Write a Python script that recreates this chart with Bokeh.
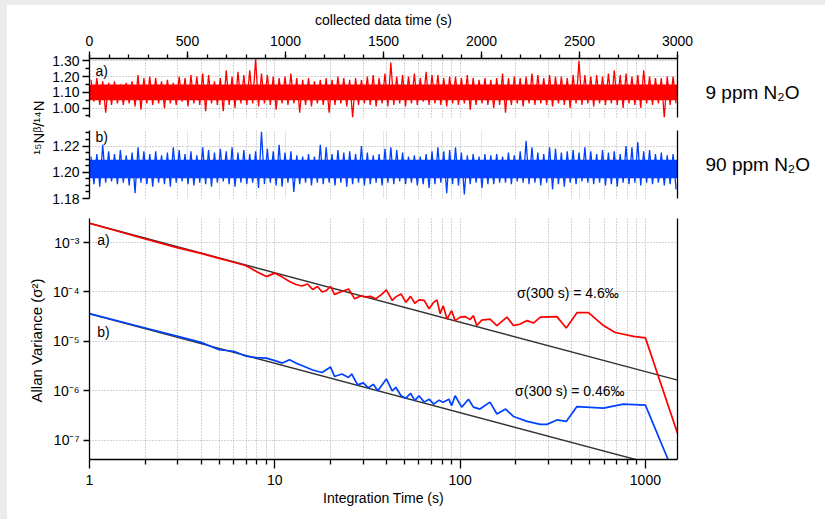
import math
from bokeh.plotting import figure
from bokeh.layouts import column, row
from bokeh.models import (Range1d, LinearAxis, LogAxis, FixedTicker, Grid, LogScale,
                          Label, Spacer, NumeralTickFormatter)
from bokeh.embed import file_html
from bokeh.resources import INLINE

FONT = "Liberation Sans"
RED = "#ff0000"
BLUE = "#0040ff"
FIT = "#333333"
GRID = "#a6a6a6"
FS = "14px"

# ---------------- data ----------------
# time series, read as per-bin (30 s) upper / lower envelope
bin_width_s = 30
bin_t = [15 + bin_width_s * i for i in range(100)]

red_hi = [1.18, 1.19, 1.17, 1.16, 1.17, 1.15, 1.16, 1.17, 1.21, 1.19,
          1.20, 1.19, 1.17, 1.18, 1.16, 1.20, 1.19, 1.21, 1.20, 1.22,
          1.21, 1.17, 1.19, 1.24, 1.20, 1.23, 1.21, 1.24, 1.31, 1.22,
          1.21, 1.20, 1.19, 1.20, 1.22, 1.19, 1.18, 1.19, 1.17, 1.18,
          1.19, 1.18, 1.20, 1.19, 1.18, 1.19, 1.18, 1.20, 1.21, 1.19,
          1.22, 1.29, 1.20, 1.21, 1.20, 1.22, 1.19, 1.23, 1.21, 1.21,
          1.19, 1.20, 1.20, 1.19, 1.21, 1.19, 1.18, 1.19, 1.18, 1.19,
          1.22, 1.19, 1.20, 1.19, 1.20, 1.22, 1.21, 1.19, 1.21, 1.20,
          1.20, 1.19, 1.21, 1.30, 1.21, 1.20, 1.21, 1.20, 1.22, 1.24,
          1.21, 1.22, 1.20, 1.21, 1.24, 1.20, 1.19, 1.19, 1.20, 1.20]
red_lo = [1.04, 1.02, 0.97, 1.02, 1.03, 1.02, 1.03, 1.01, 0.99, 1.03,
          1.02, 1.03, 1.00, 1.03, 1.02, 1.04, 1.01, 1.03, 1.02, 0.98,
          1.03, 1.02, 0.98, 1.02, 1.00, 1.03, 1.02, 1.03, 1.01, 1.03,
          1.02, 0.99, 1.03, 1.02, 1.03, 0.97, 1.02, 1.01, 1.03, 1.02,
          0.97, 1.02, 1.03, 1.01, 0.94, 1.02, 1.03, 1.02, 1.01, 1.03,
          1.01, 1.02, 1.03, 1.01, 1.03, 1.02, 1.04, 1.02, 1.03, 1.02,
          1.01, 1.03, 1.02, 1.03, 0.99, 1.02, 1.03, 1.02, 1.00, 1.02,
          0.97, 1.02, 1.03, 1.01, 1.03, 1.02, 1.03, 1.02, 1.01, 1.03,
          1.02, 1.00, 1.03, 1.02, 1.03, 1.01, 1.03, 1.02, 1.03, 1.02,
          1.00, 1.03, 1.02, 1.00, 1.03, 1.02, 1.03, 0.94, 1.02, 1.03]
red_core = [1.05, 1.15]

blue_hi = [1.212, 1.214, 1.221, 1.216, 1.214, 1.217, 1.213, 1.215, 1.219, 1.216,
           1.214, 1.216, 1.213, 1.215, 1.219, 1.217, 1.214, 1.216, 1.213, 1.219,
           1.217, 1.215, 1.218, 1.216, 1.219, 1.215, 1.217, 1.214, 1.216, 1.231,
           1.218, 1.216, 1.221, 1.215, 1.216, 1.213, 1.212, 1.214, 1.212, 1.221,
           1.219, 1.214, 1.217, 1.215, 1.216, 1.214, 1.220, 1.215, 1.213, 1.214,
           1.218, 1.219, 1.217, 1.215, 1.212, 1.213, 1.212, 1.214, 1.216, 1.219,
           1.216, 1.217, 1.219, 1.215, 1.213, 1.214, 1.212, 1.214, 1.213, 1.214,
           1.212, 1.215, 1.213, 1.216, 1.224, 1.219, 1.215, 1.214, 1.219, 1.218,
           1.215, 1.216, 1.217, 1.215, 1.219, 1.216, 1.214, 1.217, 1.215, 1.216,
           1.214, 1.220, 1.219, 1.223, 1.216, 1.217, 1.214, 1.215, 1.213, 1.214]
blue_lo = [1.191, 1.189, 1.192, 1.193, 1.191, 1.192, 1.190, 1.184, 1.192, 1.191,
           1.189, 1.192, 1.191, 1.189, 1.192, 1.193, 1.191, 1.190, 1.192, 1.191,
           1.189, 1.192, 1.193, 1.191, 1.189, 1.192, 1.191, 1.192, 1.188, 1.191,
           1.192, 1.190, 1.189, 1.192, 1.185, 1.191, 1.192, 1.190, 1.192, 1.191,
           1.192, 1.190, 1.192, 1.189, 1.191, 1.192, 1.190, 1.191, 1.192, 1.190,
           1.192, 1.191, 1.193, 1.191, 1.192, 1.190, 1.191, 1.188, 1.191, 1.192,
           1.184, 1.191, 1.190, 1.183, 1.191, 1.192, 1.188, 1.191, 1.191, 1.192,
           1.192, 1.191, 1.193, 1.192, 1.191, 1.192, 1.190, 1.192, 1.187, 1.191,
           1.189, 1.192, 1.191, 1.193, 1.192, 1.191, 1.192, 1.190, 1.191, 1.189,
           1.192, 1.191, 1.192, 1.190, 1.192, 1.191, 1.192, 1.190, 1.191, 1.187]
blue_core = [1.1955, 1.2095]

# Allan variance (log10 of sigma^2) vs integration time
red_tau = [1, 2, 3, 4, 5, 6, 7, 8, 9, 10, 11, 12, 13, 14, 15, 16, 17, 18, 19, 20,
           21, 23, 25, 27, 29, 31, 33, 35, 38, 40, 43, 45, 48, 51, 54, 57, 60, 64,
           68, 72, 75, 78, 81, 85, 90, 94, 100, 107, 113, 118, 123, 131, 145, 158,
           179, 194, 211, 230, 249, 271, 333, 374, 427, 493, 594, 687, 863, 1000, 1490]
red_log_avar = [-2.61, -2.93, -3.11, -3.22, -3.32, -3.40, -3.47, -3.59, -3.69, -3.62,
                -3.70, -3.79, -3.85, -3.88, -3.84, -3.95, -3.89, -4.00, -3.97, -3.89,
                -4.05, -3.99, -3.94, -4.14, -4.08, -4.10, -4.09, -4.14, -4.04, -3.96,
                -4.17, -4.10, -4.04, -4.21, -4.09, -4.23, -4.16, -4.17, -4.34, -4.21,
                -4.16, -4.44, -4.28, -4.55, -4.38, -4.58, -4.51, -4.50, -4.56, -4.48,
                -4.68, -4.57, -4.55, -4.68, -4.51, -4.68, -4.65, -4.58, -4.63, -4.51,
                -4.50, -4.73, -4.42, -4.42, -4.68, -4.82, -4.90, -4.93, -6.86]

blue_tau = [1, 2, 3, 4, 5, 6, 7, 8, 9, 10, 11, 12, 13, 14, 16, 18, 20, 21, 23, 25,
            26, 28, 30, 32, 34, 36, 40, 43, 45, 48, 51, 54, 57, 60, 64, 68, 72, 77,
            81, 87, 90, 94, 102, 111, 118, 128, 145, 158, 176, 194, 230, 271, 294,
            333, 374, 427, 594, 760, 1000, 1490]
blue_log_avar = [-4.44, -4.73, -4.90, -5.02, -5.17, -5.20, -5.30, -5.33, -5.34, -5.39,
                 -5.44, -5.37, -5.44, -5.49, -5.58, -5.63, -5.52, -5.71, -5.66, -5.73,
                 -5.66, -5.88, -5.84, -5.94, -5.87, -6.00, -5.76, -6.00, -5.93, -6.10,
                 -6.15, -6.05, -6.20, -6.10, -6.23, -6.17, -6.27, -6.19, -6.23, -6.17,
                 -6.30, -6.10, -6.33, -6.17, -6.33, -6.37, -6.23, -6.47, -6.37, -6.52,
                 -6.62, -6.68, -6.68, -6.59, -6.62, -6.32, -6.35, -6.27, -6.29, -7.85]

# white-noise reference lines (slope -1)
fit_tau = [1, 1490]
fit_a = [2.45e-3, 1.64e-6]
fit_b = [3.6e-5, 2.42e-8]

time_major = [0, 500, 1000, 1500, 2000, 2500, 3000]
time_minor = list(range(0, 3001, 100))
tau_major = [1, 10, 100, 1000]
tau_minor = [2, 3, 4, 5, 6, 7, 8, 9, 20, 30, 40, 50, 60, 70, 80, 90,
             200, 300, 400, 500, 600, 700, 800, 900]
avar_major = [1e-7, 1e-6, 1e-5, 1e-4, 1e-3]
avar_labels = ["10⁻⁷", "10⁻⁶", "10⁻⁵", "10⁻⁴", "10⁻³"]
ra_major = [1.00, 1.10, 1.20, 1.30]
ra_minor = [0.95, 1.05, 1.15, 1.25]
rb_major = [1.18, 1.20, 1.22]
rb_minor = [1.185, 1.19, 1.195, 1.205, 1.21, 1.215, 1.225, 1.23]

TAU_MAX = 1490


# ---------------- helpers ----------------
def style_axis(ax, major_out=7, minor_out=4):
    ax.axis_line_color = "black"
    ax.axis_line_width = 1.3
    ax.major_tick_line_color = "black"
    ax.major_tick_line_width = 1.3
    ax.minor_tick_line_color = "black"
    ax.minor_tick_line_width = 1.3
    ax.major_tick_in = 0
    ax.major_tick_out = major_out
    ax.minor_tick_in = 0
    ax.minor_tick_out = minor_out
    ax.major_label_text_font = FONT
    ax.major_label_text_font_size = FS
    ax.major_label_text_color = "black"
    ax.axis_label_text_font = FONT
    ax.axis_label_text_font_size = FS
    ax.axis_label_text_font_style = "normal"
    ax.axis_label_text_color = "black"


def frame_line(p, side, log=False):
    Ax = LogAxis if log else LinearAxis
    ax = Ax(ticker=FixedTicker(ticks=[]), axis_line_color="black", axis_line_width=1.3,
            major_tick_line_color=None, minor_tick_line_color=None,
            major_label_text_font_size="0px")
    p.add_layout(ax, side)


def tau_grid(p):
    g = Grid(dimension=0, ticker=FixedTicker(ticks=tau_minor + tau_major[1:]),
             x_range_name="tau", grid_line_color=GRID, grid_line_dash="1 2",
             grid_line_width=1)
    p.add_layout(g)


def zigzag(hi, lo):
    xs, ys = [], []
    for t, h, l in zip(bin_t, hi, lo):
        xs += [t - bin_width_s / 4, t + bin_width_s / 4]
        ys += [h, l]
    return xs, ys


def text_label(p, x, y, text, size=FS, align="left", angle=0.0):
    p.add_layout(Label(x=x, y=y, text=text, text_font=FONT, text_font_size=size,
                       text_color="black", text_baseline="middle", text_align=align,
                       angle=angle))


W = 650
BL, BR = 42, 20

# ---------------- panel a (red time series) ----------------
pa = figure(width=W, height=118, x_range=Range1d(0, 3000), y_range=Range1d(0.94, 1.315),
            x_axis_location="above", toolbar_location=None, output_backend="svg",
            min_border_left=BL, min_border_right=BR, min_border_top=53, min_border_bottom=6,
            extra_x_ranges={"tau": Range1d(1, TAU_MAX)}, extra_x_scales={"tau": LogScale()})
pa.outline_line_color = None
pa.xgrid.visible = False
pa.ygrid.grid_line_color = GRID
pa.ygrid.grid_line_dash = "1 2"
tau_grid(pa)
style_axis(pa.xaxis[0], 7, 4)
pa.xaxis[0].ticker = FixedTicker(ticks=time_major, minor_ticks=time_minor)
pa.xaxis[0].axis_label = "collected data time (s)"
pa.xaxis[0].axis_label_standoff = 5
pa.xaxis[0].major_label_standoff = 6
style_axis(pa.yaxis[0], 7, 4)
pa.yaxis[0].ticker = FixedTicker(ticks=ra_major, minor_ticks=ra_minor)
pa.yaxis[0].formatter = NumeralTickFormatter(format="0.00")
pa.yaxis[0].major_label_standoff = 3
frame_line(pa, "right")
pa.varea(x=[0, 3000], y1=[red_core[0]] * 2, y2=[red_core[1]] * 2, fill_color=RED)
zx, zy = zigzag(red_hi, red_lo)
pa.line(zx, zy, line_color=RED, line_width=1.3)
text_label(pa, 30, 1.237, "a)")

# ---------------- panel b (blue time series) ----------------
pb = figure(width=W, height=85, x_range=Range1d(0, 3000), y_range=Range1d(1.18, 1.2319),
            x_axis_location=None, toolbar_location=None, output_backend="svg",
            min_border_left=BL, min_border_right=BR, min_border_top=7, min_border_bottom=10,
            extra_x_ranges={"tau": Range1d(1, TAU_MAX)}, extra_x_scales={"tau": LogScale()})
pb.outline_line_color = None
pb.ygrid.grid_line_color = GRID
pb.ygrid.grid_line_dash = "1 2"
tau_grid(pb)
style_axis(pb.yaxis[0], 7, 4)
pb.yaxis[0].ticker = FixedTicker(ticks=rb_major, minor_ticks=rb_minor)
pb.yaxis[0].formatter = NumeralTickFormatter(format="0.00")
pb.yaxis[0].major_label_standoff = 3
frame_line(pb, "right")
pb.varea(x=[0, 3000], y1=[blue_core[0]] * 2, y2=[blue_core[1]] * 2, fill_color=BLUE)
zx, zy = zigzag(blue_hi, blue_lo)
pb.line(zx, zy, line_color=BLUE, line_width=1.3)
text_label(pb, 30, 1.2268, "b)")

# ---------------- panel c (Allan variance) ----------------
pc = figure(width=W, height=311, x_axis_type="log", y_axis_type="log",
            x_range=Range1d(1, TAU_MAX), y_range=Range1d(4.07e-8, 3.06e-3),
            toolbar_location=None, output_backend="svg",
            min_border_left=BL, min_border_right=BR, min_border_top=10, min_border_bottom=60)
pc.outline_line_color = None
pc.xgrid.grid_line_color = GRID
pc.xgrid.grid_line_dash = "1 2"
pc.xgrid.minor_grid_line_color = GRID
pc.xgrid.minor_grid_line_dash = "1 2"
pc.ygrid.grid_line_color = GRID
pc.ygrid.grid_line_dash = "1 2"
style_axis(pc.xaxis[0], 9, 5)
pc.xaxis[0].ticker = FixedTicker(ticks=tau_major, minor_ticks=tau_minor)
pc.xaxis[0].major_label_overrides = {t: str(t) for t in tau_major}
pc.xaxis[0].axis_label = "Integration Time (s)"
pc.xaxis[0].major_label_standoff = 6
pc.xaxis[0].axis_label_standoff = 2
style_axis(pc.yaxis[0], 6, 0)
pc.yaxis[0].ticker = FixedTicker(ticks=avar_major)
pc.yaxis[0].major_label_overrides = dict(zip(avar_major, avar_labels))
pc.yaxis[0].major_label_standoff = 4
frame_line(pc, "right", log=True)

pc.line(fit_tau, fit_a, line_color=FIT, line_width=1.4)
pc.line(fit_tau, fit_b, line_color=FIT, line_width=1.4)
pc.line(red_tau, [10 ** v for v in red_log_avar], line_color=RED, line_width=1.7)
pc.line(blue_tau, [10 ** v for v in blue_log_avar], line_color=BLUE, line_width=1.7)
text_label(pc, 1.1, 1.1e-3, "a)")
text_label(pc, 1.1, 1.55e-5, "b)")
text_label(pc, 203, 9.5e-5, "σ(300 s) =  4.6‰")
text_label(pc, 198, 1.0e-6, "σ(300 s) =  0.46‰")

# ---------------- left strip with rotated y labels ----------------
ps = figure(width=40, height=514, x_range=Range1d(0, 40), y_range=Range1d(0, 514),
            x_axis_location=None, y_axis_location=None, toolbar_location=None,
            output_backend="svg", min_border=0)
ps.outline_line_color = None
ps.grid.visible = False
text_label(ps, 31, 392, "¹⁵Nᵝ/¹⁴N", size="15px", align="center", angle=math.pi / 2)
text_label(ps, 29, 179, "Allan Variance (σ²)", size="15px", align="center", angle=math.pi / 2)

# ---------------- right strip with sample labels ----------------
pr = figure(width=128, height=514, x_range=Range1d(0, 128), y_range=Range1d(0, 514),
            x_axis_location=None, y_axis_location=None, toolbar_location=None,
            output_backend="svg", min_border=0)
pr.outline_line_color = None
pr.grid.visible = False
text_label(pr, 8, 427, "9 ppm N₂O", size="19px")
text_label(pr, 8, 355, "90 ppm N₂O", size="19px")

gray = {"background-color": "#ebebeb"}
layout = column(
    Spacer(width=825, height=5, styles=gray),
    row(Spacer(width=7, height=514, styles=gray), ps, column(pa, pb, pc, spacing=0), pr,
        spacing=0),
    spacing=0)

open("out.html", "w").write(file_html(layout, INLINE))
